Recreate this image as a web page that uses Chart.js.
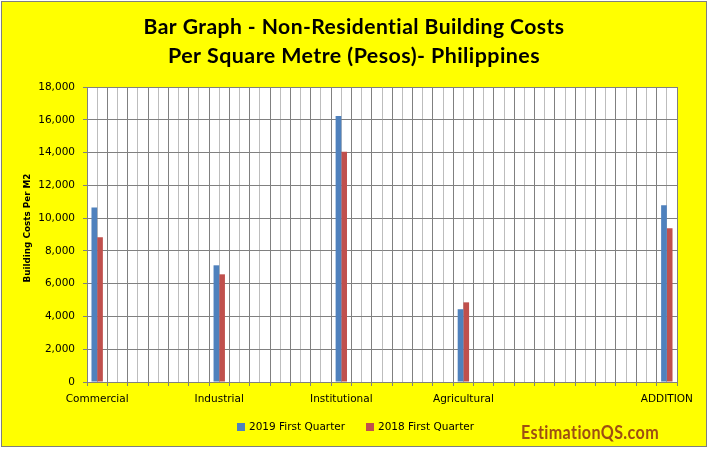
<!DOCTYPE html>
<html>
<head>
<meta charset="utf-8">
<script src="https://cdn.jsdelivr.net/npm/chart.js@4"></script>
<style>
  html, body { margin: 0; padding: 0; background: #ffffff; }
  #wrap { width: 709px; height: 449px; }
</style>
</head>
<body>
<div id="wrap"><canvas id="c" width="709" height="449"></canvas></div>
<script>
// ---- Data ----
const titleLines = ['Bar Graph - Non-Residential Building Costs', 'Per Square Metre (Pesos)- Philippines'];
const yAxisTitle = 'Building Costs Per M2';
const watermark = 'EstimationQS.com';
const categories = [
  'Commercial', '', '', '', '', '',
  'Industrial', '', '', '', '', '',
  'Institutional', '', '', '', '', '',
  'Agricultural', '', '', '', '', '', '', '', '', '',
  'ADDITION'
];
const seriesNames = ['2019 First Quarter', '2018 First Quarter'];
const q1_2019 = [
  10650, null, null, null, null, null,
  7120, null, null, null, null, null,
  16230, null, null, null, null, null,
  4440, null, null, null, null, null, null, null, null, null,
  10780
];
const q1_2018 = [
  8830, null, null, null, null, null,
  6570, null, null, null, null, null,
  14050, null, null, null, null, null,
  4860, null, null, null, null, null, null, null, null, null,
  9380
];
const yMin = 0, yMax = 18000, yStep = 2000;

const seriesColors = ['#4F81BD', '#C0504D'];

function fitText(ctx, text, cx, y, font, targetW, spacing) {
  ctx.font = font;
  if ('letterSpacing' in ctx) ctx.letterSpacing = spacing || '0px';
  const w = ctx.measureText(text).width;
  const s = targetW / w;
  ctx.save();
  ctx.translate(cx, y);
  ctx.scale(s, 1);
  ctx.fillText(text, 0, 0);
  ctx.restore();
  if ('letterSpacing' in ctx) ctx.letterSpacing = '0px';
}

const decor = {
  id: 'decor',
  beforeDraw(chart) {
    const ctx = chart.ctx;
    const a = chart.chartArea;
    ctx.save();
    ctx.fillStyle = '#ffffff';
    ctx.fillRect(0, 0, chart.width, chart.height);
    ctx.fillStyle = '#FFFF00';
    ctx.fillRect(1, 1, 706, 446);
    ctx.strokeStyle = '#7f7f7f';
    ctx.lineWidth = 1;
    ctx.strokeRect(1.5, 1.5, 705, 445);
    ctx.fillStyle = '#ffffff';
    ctx.fillRect(a.left, a.top, a.right - a.left, a.bottom - a.top);
    ctx.restore();
  },
  afterDraw(chart) {
    const ctx = chart.ctx;
    ctx.save();
    ctx.fillStyle = '#000000';
    ctx.textAlign = 'center';
    ctx.textBaseline = 'alphabetic';
    fitText(ctx, titleLines[0], 354, 34, 'bold 20px Lato', 421, '0.4px');
    fitText(ctx, titleLines[1], 354, 62.5, 'bold 20px Lato', 372, '0.4px');

    // y axis title
    ctx.save();
    ctx.translate(28, 228);
    ctx.rotate(-Math.PI / 2);
    ctx.textBaseline = 'middle';
    fitText(ctx, yAxisTitle, 0, 0, 'bold 9px "DejaVu Sans"', 109);
    ctx.restore();

    // legend
    const ds = chart.data.datasets;
    const lx = [237, 366];
    ctx.textAlign = 'left';
    ctx.textBaseline = 'middle';
    ds.forEach((d, i) => {
      ctx.fillStyle = d.backgroundColor;
      ctx.fillRect(lx[i], 423, 8, 8);
      ctx.fillStyle = '#000000';
      ctx.font = '10.5px "DejaVu Sans"';
      ctx.fillText(d.label, lx[i] + 12, 427);
    });

    // watermark
    ctx.textAlign = 'center';
    ctx.textBaseline = 'alphabetic';
    ctx.fillStyle = '#9e4f12';
    fitText(ctx, watermark, 590, 439, 'bold 18px Lato', 138, '0.4px');
    ctx.restore();
  }
};

new Chart(document.getElementById('c'), {
  type: 'bar',
  data: {
    labels: categories,
    datasets: [
      { label: seriesNames[0], data: q1_2019, backgroundColor: seriesColors[0], xAxisID: 'x', yAxisID: 'y' },
      { label: seriesNames[1], data: q1_2018, backgroundColor: seriesColors[1], xAxisID: 'x', yAxisID: 'y' }
    ]
  },
  options: {
    responsive: false,
    animation: false,
    devicePixelRatio: 1,
    layout: { padding: { left: 0, right: 32, top: 87, bottom: 37 } },
    datasets: { bar: { categoryPercentage: 0.56, barPercentage: 1.0, borderWidth: 0 } },
    plugins: {
      legend: { display: false },
      title: { display: false },
      tooltip: { enabled: false }
    },
    scales: {
      x2: {
        type: 'category',
        position: 'bottom',
        offset: true,
        grid: { offset: false, color: '#bdbdbd', drawTicks: false, lineWidth: 1 },
        border: { display: false },
        ticks: { display: false },
        afterFit(s) { s.height = 0; }
      },
      x: {
        type: 'category',
        position: 'bottom',
        offset: true,
        grid: { offset: true, color: '#808080', tickLength: 4, tickColor: '#808080' },
        border: { color: '#808080' },
        ticks: {
          autoSkip: false, maxRotation: 0, minRotation: 0, padding: 7,
          color: '#000000', font: { family: 'DejaVu Sans', size: 10.5 }
        },
        afterFit(s) { s.height = 30; }
      },
      y: {
        min: yMin, max: yMax,
        grid: { color: '#808080', tickLength: 4, tickColor: '#808080' },
        border: { color: '#808080' },
        ticks: {
          stepSize: yStep, padding: 8, color: '#000000',
          font: { family: 'DejaVu Sans', size: 10.5 },
          callback: v => v.toLocaleString('en-US')
        },
        afterFit(s) { s.width = 87; }
      }
    }
  },
  plugins: [decor]
});
</script>
</body>
</html>
